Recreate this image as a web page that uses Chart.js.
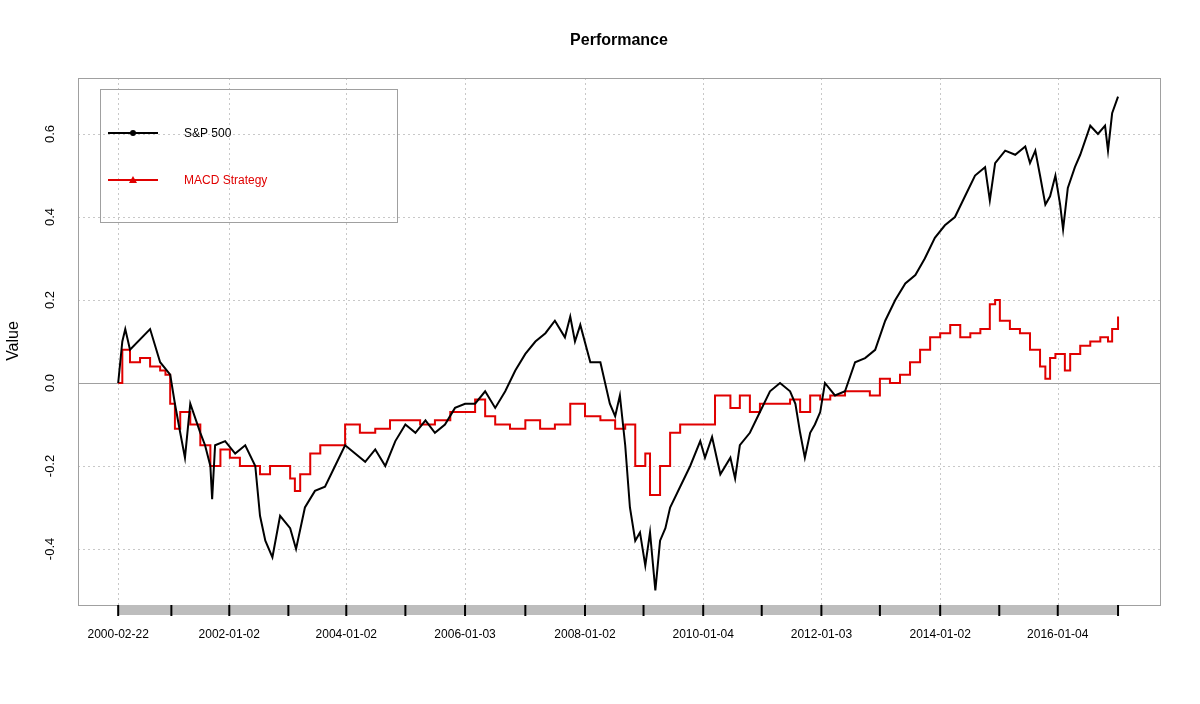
<!DOCTYPE html>
<html>
<head>
<meta charset="utf-8">
<script src="https://cdn.jsdelivr.net/npm/chart.js@4"></script>
<style>body{margin:0;background:#fff}</style>
</head>
<body>
<canvas id="perf" width="1200" height="704"></canvas>
<script>
// dates as fractional years
const spYears = [2000.14,2000.21,2000.26,2000.34,2000.68,2000.85,2001.02,2001.10,2001.19,2001.27,2001.36,2001.53,2001.61,2001.70,2001.73,2001.78,2001.95,2002.12,2002.29,2002.46,2002.54,2002.63,2002.75,2002.88,2003.05,2003.15,2003.30,2003.47,2003.64,2003.81,2003.98,2004.15,2004.32,2004.49,2004.66,2004.83,2005.00,2005.17,2005.34,2005.50,2005.67,2005.84,2006.01,2006.18,2006.35,2006.52,2006.69,2006.86,2007.03,2007.20,2007.37,2007.53,2007.70,2007.79,2007.87,2007.96,2008.13,2008.30,2008.46,2008.55,2008.63,2008.72,2008.80,2008.89,2008.97,2009.06,2009.14,2009.23,2009.31,2009.40,2009.48,2009.65,2009.82,2009.99,2010.07,2010.19,2010.33,2010.50,2010.58,2010.66,2010.83,2011.00,2011.17,2011.34,2011.51,2011.60,2011.68,2011.76,2011.85,2011.93,2012.02,2012.10,2012.27,2012.44,2012.61,2012.78,2012.95,2013.12,2013.29,2013.46,2013.63,2013.79,2013.96,2014.13,2014.30,2014.47,2014.64,2014.81,2014.89,2014.98,2015.15,2015.32,2015.49,2015.57,2015.66,2015.74,2015.83,2015.91,2016.00,2016.08,2016.13,2016.21,2016.33,2016.42,2016.59,2016.72,2016.84,2016.89,2016.96,2017.06];
const spValues = [0.00,0.10,0.13,0.08,0.13,0.05,0.02,-0.05,-0.12,-0.18,-0.05,-0.12,-0.15,-0.20,-0.28,-0.15,-0.14,-0.17,-0.15,-0.20,-0.32,-0.38,-0.42,-0.32,-0.35,-0.40,-0.30,-0.26,-0.25,-0.20,-0.15,-0.17,-0.19,-0.16,-0.20,-0.14,-0.10,-0.12,-0.09,-0.12,-0.10,-0.06,-0.05,-0.05,-0.02,-0.06,-0.02,0.03,0.07,0.10,0.12,0.15,0.11,0.16,0.10,0.14,0.05,0.05,-0.05,-0.08,-0.03,-0.15,-0.30,-0.38,-0.36,-0.44,-0.36,-0.50,-0.38,-0.35,-0.30,-0.25,-0.20,-0.14,-0.18,-0.13,-0.22,-0.18,-0.23,-0.15,-0.12,-0.07,-0.02,0.00,-0.02,-0.05,-0.12,-0.18,-0.12,-0.10,-0.07,0.00,-0.03,-0.02,0.05,0.06,0.08,0.15,0.20,0.24,0.26,0.30,0.35,0.38,0.40,0.45,0.50,0.52,0.44,0.53,0.56,0.55,0.57,0.53,0.56,0.50,0.43,0.45,0.50,0.43,0.37,0.47,0.52,0.55,0.62,0.60,0.62,0.56,0.65,0.69];
const macdYears = [2000.14,2000.21,2000.34,2000.51,2000.68,2000.85,2000.94,2001.02,2001.10,2001.19,2001.36,2001.53,2001.70,2001.87,2002.03,2002.20,2002.37,2002.54,2002.71,2002.88,2003.05,2003.13,2003.22,2003.39,2003.56,2003.73,2003.98,2004.23,2004.49,2004.74,2005.00,2005.25,2005.50,2005.76,2006.01,2006.18,2006.35,2006.52,2006.77,2007.03,2007.28,2007.53,2007.79,2008.04,2008.30,2008.55,2008.72,2008.89,2009.06,2009.14,2009.31,2009.48,2009.65,2009.90,2010.07,2010.24,2010.50,2010.66,2010.83,2011.00,2011.26,2011.51,2011.68,2011.85,2012.02,2012.19,2012.44,2012.69,2012.86,2013.03,2013.20,2013.37,2013.54,2013.71,2013.88,2014.05,2014.22,2014.39,2014.56,2014.73,2014.89,2014.98,2015.06,2015.23,2015.40,2015.57,2015.74,2015.83,2015.91,2016.00,2016.16,2016.25,2016.42,2016.59,2016.76,2016.89,2016.96,2017.06];
const macdValues = [0.00,0.08,0.05,0.06,0.04,0.03,0.02,-0.05,-0.11,-0.07,-0.10,-0.15,-0.20,-0.16,-0.18,-0.20,-0.20,-0.22,-0.20,-0.20,-0.23,-0.26,-0.22,-0.17,-0.15,-0.15,-0.10,-0.12,-0.11,-0.09,-0.09,-0.10,-0.09,-0.07,-0.07,-0.04,-0.08,-0.10,-0.11,-0.09,-0.11,-0.10,-0.05,-0.08,-0.09,-0.11,-0.10,-0.20,-0.17,-0.27,-0.20,-0.12,-0.10,-0.10,-0.10,-0.03,-0.06,-0.03,-0.07,-0.05,-0.05,-0.04,-0.07,-0.03,-0.04,-0.03,-0.02,-0.02,-0.03,0.01,0.00,0.02,0.05,0.08,0.11,0.12,0.14,0.11,0.12,0.13,0.19,0.20,0.15,0.13,0.12,0.08,0.04,0.01,0.06,0.07,0.03,0.07,0.09,0.10,0.11,0.10,0.13,0.16];
const xTickYears = [2000.14,2001.04,2002.02,2003.02,2004.00,2005.00,2006.01,2007.03,2008.04,2009.03,2010.04,2011.03,2012.04,2013.03,2014.05,2015.05,2016.04,2017.06];
const xTickLabels = ['2000-02-22','','2002-01-02','','2004-01-02','','2006-01-03','','2008-01-02','','2010-01-04','','2012-01-03','','2014-01-02','','2016-01-04',''];
const yTicks = [-0.4,-0.2,0.0,0.2,0.4,0.6];

const toPts = (xs, ys) => xs.map((x, i) => ({x: x, y: ys[i]}));

const decor = {
    id: 'decor',
    beforeDatasetsDraw(chart) {
        const c = chart.ctx, a = chart.chartArea;
        const xs = chart.scales.x, ys = chart.scales.y;
        c.save();
        c.strokeStyle = '#c8c8c8';
        c.lineWidth = 1;
        c.setLineDash([2, 3]);
        yTicks.forEach(v => {
            const y = Math.round(ys.getPixelForValue(v)) + 0.5;
            c.beginPath(); c.moveTo(a.left, y); c.lineTo(a.right, y); c.stroke();
        });
        xTickYears.forEach((v, i) => {
            if (!xTickLabels[i]) return;
            const x = Math.round(xs.getPixelForValue(v)) + 0.5;
            c.beginPath(); c.moveTo(x, a.top); c.lineTo(x, a.bottom); c.stroke();
        });
        c.setLineDash([]);
        c.strokeStyle = '#a0a0a0';
        const y0 = Math.round(ys.getPixelForValue(0)) + 0.5;
        c.beginPath(); c.moveTo(a.left, y0); c.lineTo(a.right, y0); c.stroke();
        c.restore();
    },
    afterDraw(chart) {
        const c = chart.ctx, a = chart.chartArea;
        const xs = chart.scales.x, ys = chart.scales.y;
        c.save();
        c.strokeStyle = '#a0a0a0';
        c.lineWidth = 1;
        c.strokeRect(a.left + 0.5, a.top + 0.5, a.right - a.left, a.bottom - a.top);
        // gray date bar
        const x0 = xs.getPixelForValue(xTickYears[0]);
        const x1 = xs.getPixelForValue(xTickYears[xTickYears.length - 1]);
        c.fillStyle = '#bdbdbd';
        c.fillRect(x0, a.bottom, x1 - x0, 10);
        c.strokeStyle = '#000';
        c.lineWidth = 2;
        c.font = '12px "Liberation Sans", Arial, sans-serif';
        c.fillStyle = '#000';
        c.textAlign = 'center';
        c.textBaseline = 'middle';
        xTickYears.forEach((v, i) => {
            const x = xs.getPixelForValue(v);
            c.beginPath(); c.moveTo(x, a.bottom); c.lineTo(x, a.bottom + 11); c.stroke();
            if (xTickLabels[i]) c.fillText(xTickLabels[i], x, a.bottom + 30);
        });
        // y axis labels, rotated like R
        c.lineWidth = 1;
        c.font = '13px "Liberation Sans", Arial, sans-serif';
        yTicks.forEach(v => {
            const y = ys.getPixelForValue(v);
            c.save();
            c.translate(50, y);
            c.rotate(-Math.PI / 2);
            c.fillText(v.toFixed(1), 0, 0);
            c.restore();
        });
        c.save();
        c.font = '16px "Liberation Sans", Arial, sans-serif';
        c.translate(14, 341);
        c.rotate(-Math.PI / 2);
        c.fillText('Value', 0, 0);
        c.restore();
        // title
        c.font = 'bold 16px "Liberation Sans", Arial, sans-serif';
        c.fillText('Performance', (a.left + a.right) / 2, 41);
        // legend
        c.strokeStyle = '#a0a0a0';
        c.strokeRect(100.5, 89.5, 297, 133);
        const items = [['S&P 500', '#000', 133, 'dot'], ['MACD Strategy', '#e00000', 180, 'tri']];
        c.textAlign = 'left';
        c.font = '12px "Liberation Sans", Arial, sans-serif';
        items.forEach(it => {
            c.strokeStyle = it[1]; c.fillStyle = it[1]; c.lineWidth = 2;
            c.beginPath(); c.moveTo(108, it[2]); c.lineTo(158, it[2]); c.stroke();
            c.beginPath();
            if (it[3] === 'dot') c.arc(133, it[2], 3, 0, Math.PI * 2);
            else { c.moveTo(133, it[2] - 4); c.lineTo(137, it[2] + 3); c.lineTo(129, it[2] + 3); c.closePath(); }
            c.fill();
            c.fillText(it[0], 184, it[2] + 1);
        });
        c.restore();
    }
};

new Chart(document.getElementById('perf'), {
    type: 'line',
    data: {
        datasets: [{
            label: 'S&P 500',
            data: toPts(spYears, spValues),
            borderColor: '#000',
            borderWidth: 2,
            pointRadius: 0,
            tension: 0
        }, {
            label: 'MACD Strategy',
            data: toPts(macdYears, macdValues),
            borderColor: '#e00000',
            borderWidth: 2,
            pointRadius: 0,
            stepped: true
        }]
    },
    options: {
        responsive: false,
        animation: false,
        layout: { padding: { left: 78, right: 40, top: 78, bottom: 99 } },
        plugins: { legend: { display: false }, tooltip: { enabled: false } },
        scales: {
            x: { type: 'linear', min: 1999.46, max: 2017.77, display: false },
            y: { min: -0.535, max: 0.735, display: false }
        }
    },
    plugins: [decor]
});
</script>
</body>
</html>
